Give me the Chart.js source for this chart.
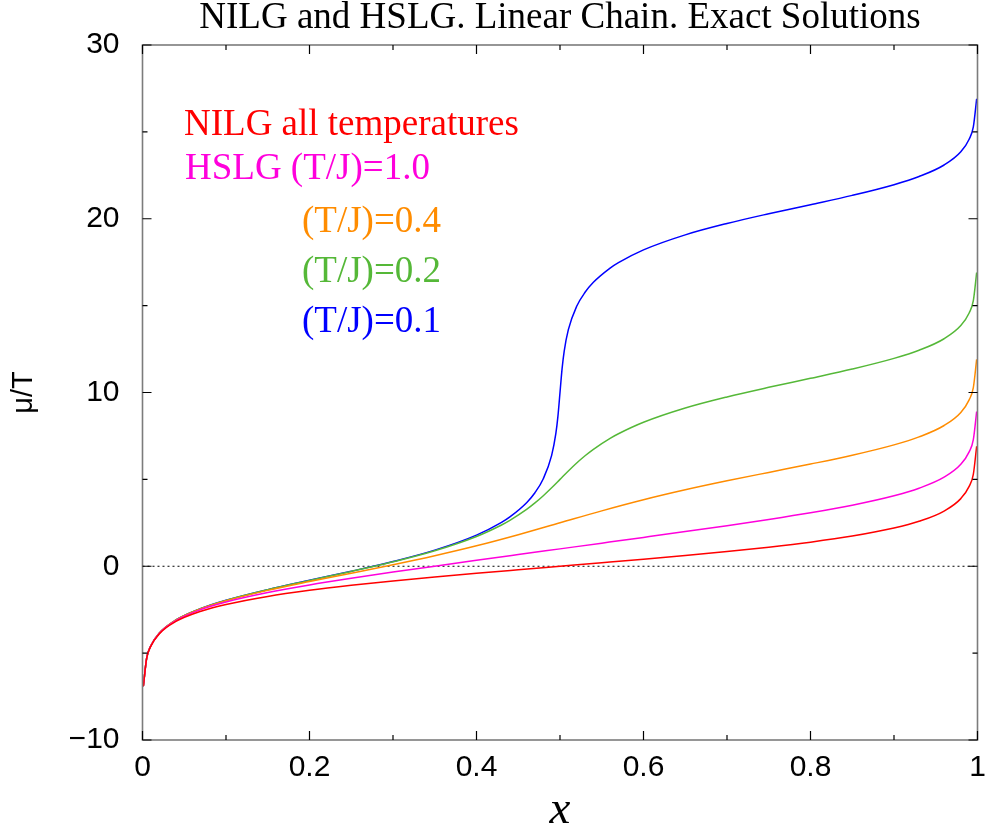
<!DOCTYPE html>
<html>
<head>
<meta charset="utf-8">
<script src="https://cdn.jsdelivr.net/npm/chart.js@4.4.0/dist/chart.umd.min.js"></script>
<style>
  html, body { margin: 0; padding: 0; background: #ffffff; }
  #wrap { width: 985px; height: 825px; }
</style>
</head>
<body>
<div id="wrap"><canvas id="c" width="985" height="825"></canvas></div>
<script>
// ---------------- data ----------------
const titleText = 'NILG and HSLG. Linear Chain. Exact Solutions';
const xAxisTitle = 'x';
const yAxisTitle = 'μ/T';

const xTicks = [0, 0.2, 0.4, 0.6, 0.8, 1];
const xTickLabels = ['0', '0.2', '0.4', '0.6', '0.8', '1'];
const xMinorTicks = [0.1, 0.3, 0.5, 0.7, 0.9];
const yTicks = [-10, 0, 10, 20, 30];
const yTickLabels = ['−10', '0', '10', '20', '30'];
const yMinorTicks = [-5, 5, 15, 25];

const seriesNames = ['NILG all temperatures', 'HSLG (T/J)=1.0', '(T/J)=0.4', '(T/J)=0.2', '(T/J)=0.1'];

// x positions for the NILG, T/J=1.0 and T/J=0.4 curves
const xCoarse = [0.001, 0.005, 0.01, 0.02, 0.04, 0.07, 0.1, 0.15, 0.2, 0.25, 0.3, 0.35, 0.4, 0.45, 0.5,
                 0.55, 0.6, 0.65, 0.7, 0.75, 0.8, 0.85, 0.9, 0.93, 0.96, 0.98, 0.99, 0.995, 0.999];
const nilg   = [-6.907, -5.293, -4.595, -3.892, -3.178, -2.587, -2.197, -1.735, -1.386, -1.099, -0.847, -0.619, -0.405, -0.201, 0,
                0.201, 0.405, 0.619, 0.847, 1.099, 1.386, 1.735, 2.197, 2.587, 3.178, 3.892, 4.595, 5.293, 6.907];
const hslg10 = [-6.906, -5.287, -4.582, -3.866, -3.126, -2.492, -2.058, -1.515, -1.078, -0.694, -0.337, 0.005, 0.339, 0.670, 1.0,
                1.330, 1.661, 1.995, 2.337, 2.694, 3.078, 3.515, 4.058, 4.492, 5.126, 5.866, 6.582, 7.287, 8.906];
const hslg04 = [-6.905, -5.284, -4.577, -3.854, -3.101, -2.445, -1.984, -1.388, -0.880, -0.401, 0.085, 0.603, 1.174, 1.812, 2.5,
                3.188, 3.826, 4.398, 4.915, 5.401, 5.880, 6.388, 6.984, 7.445, 8.101, 8.854, 9.577, 10.284, 11.905];

// x positions for the T/J=0.2 curve
const xGreen = [0.001, 0.005, 0.01, 0.02, 0.04, 0.07, 0.1, 0.15, 0.2, 0.25, 0.3, 0.35, 0.4,
                0.43, 0.44, 0.46, 0.47, 0.48, 0.49, 0.5, 0.51, 0.52, 0.53, 0.54, 0.56, 0.57,
                0.6, 0.65, 0.7, 0.75, 0.8, 0.85, 0.9, 0.93, 0.96, 0.98, 0.99, 0.995, 0.999];
const hslg02 = [-6.905, -5.283, -4.575, -3.851, -3.094, -2.431, -1.964, -1.350, -0.817, -0.298, 0.255, 0.894, 1.715,
                2.376, 2.641, 3.269, 3.643, 4.060, 4.518, 5.0, 5.482, 5.940, 6.358, 6.731, 7.359, 7.624,
                8.285, 9.106, 9.745, 10.298, 10.817, 11.350, 11.964, 12.431, 13.094, 13.851, 14.575, 15.283, 16.905];

// x positions for the T/J=0.1 curve
const xBlue = [0.001, 0.005, 0.01, 0.02, 0.04, 0.07, 0.1, 0.15, 0.2, 0.25, 0.3, 0.35, 0.4,
               0.43, 0.44, 0.46, 0.47, 0.48, 0.49, 0.495, 0.4975, 0.5, 0.5025, 0.505, 0.51, 0.52, 0.53, 0.54, 0.56, 0.57,
               0.6, 0.65, 0.7, 0.75, 0.8, 0.85, 0.9, 0.93, 0.96, 0.98, 0.99, 0.995, 0.999];
const hslg01 = [-6.905, -5.283, -4.575, -3.851, -3.093, -2.430, -1.962, -1.346, -0.811, -0.288, 0.272, 0.927, 1.792,
                2.526, 2.840, 3.656, 4.231, 5.036, 6.383, 7.628, 8.627, 10.0, 11.373, 12.372, 13.617, 14.964, 15.769, 16.344, 17.160, 17.474,
                18.208, 19.073, 19.728, 20.288, 20.811, 21.346, 21.962, 22.430, 23.093, 23.851, 24.575, 25.283, 26.905];

// dotted reference line at mu/T = 0
const zeroLineX = [0, 1];
const zeroLineY = [0, 0];

// ---------------- styling ----------------
const seriesColors = ['#ff0000', '#ff00dc', '#ff8c00', '#55b838', '#0000ff'];
const SERIF = "'Liberation Serif', 'Times New Roman', serif";
const SANS = "'Liberation Sans', Arial, sans-serif";

function pts(xs, ys) { return xs.map((x, i) => ({ x: x, y: ys[i] })); }

const lineStyle = { showLine: true, pointRadius: 0, borderWidth: 1.5, fill: false, cubicInterpolationMode: 'monotone' };

const datasets = [
  Object.assign({ label: seriesNames[0], data: pts(xCoarse, nilg),   borderColor: seriesColors[0] }, lineStyle),
  Object.assign({ label: seriesNames[1], data: pts(xCoarse, hslg10), borderColor: seriesColors[1] }, lineStyle),
  Object.assign({ label: seriesNames[2], data: pts(xCoarse, hslg04), borderColor: seriesColors[2] }, lineStyle),
  Object.assign({ label: seriesNames[3], data: pts(xGreen, hslg02),  borderColor: seriesColors[3] }, lineStyle),
  Object.assign({ label: seriesNames[4], data: pts(xBlue, hslg01),   borderColor: seriesColors[4] }, lineStyle),
  { label: 'zero', data: pts(zeroLineX, zeroLineY), showLine: true, pointRadius: 0, borderWidth: 1,
    borderColor: '#000000', borderDash: [2, 3], fill: false }
];

// legend text positions relative to the plot area (pixels)
const legendPos = [[41.5, 90], [42.5, 134], [159.5, 186.5], [159.5, 236.5], [159.5, 286.5]];

const framePlugin = {
  id: 'frameAndLegend',
  afterDatasetsDraw(chart) {
    const { ctx, chartArea: a, scales: { x, y } } = chart;
    ctx.save();
    // legend labels
    ctx.font = '37px ' + SERIF;
    ctx.textBaseline = 'alphabetic';
    ctx.textAlign = 'left';
    seriesNames.forEach((t, i) => {
      ctx.fillStyle = seriesColors[i];
      ctx.fillText(t, a.left + legendPos[i][0], a.top + legendPos[i][1]);
    });
    // frame
    ctx.strokeStyle = '#7c7c7c';
    ctx.lineWidth = 1.6;
    ctx.strokeRect(a.left, a.top, a.right - a.left, a.bottom - a.top);
    // inward ticks on all four sides
    ctx.strokeStyle = '#000000';
    ctx.lineWidth = 1.2;
    ctx.beginPath();
    const xt = (vals, len) => vals.forEach(v => {
      const px = x.getPixelForValue(v);
      ctx.moveTo(px, a.bottom); ctx.lineTo(px, a.bottom - len);
      ctx.moveTo(px, a.top); ctx.lineTo(px, a.top + len);
    });
    const yt = (vals, len) => vals.forEach(v => {
      const py = y.getPixelForValue(v);
      ctx.moveTo(a.left, py); ctx.lineTo(a.left + len, py);
      ctx.moveTo(a.right, py); ctx.lineTo(a.right - len, py);
    });
    xt(xTicks, 9); xt(xMinorTicks, 5);
    yt(yTicks, 9); yt(yMinorTicks, 5);
    ctx.stroke();
    ctx.restore();
  }
};

new Chart(document.getElementById('c'), {
  type: 'scatter',
  data: { datasets: datasets },
  options: {
    responsive: false,
    animation: false,
    devicePixelRatio: 1,
    layout: { autoPadding: false, padding: { left: 0, right: 7.5, top: 0, bottom: 0 } },
    plugins: {
      legend: { display: false },
      tooltip: { enabled: false },
      title: {
        display: true, text: titleText, fullSize: false, color: '#000000',
        font: { family: SERIF, size: 37, weight: 'normal', lineHeight: 1.0 },
        padding: { top: 0, bottom: 8 }
      }
    },
    scales: {
      x: {
        type: 'linear', position: 'bottom', min: 0, max: 1,
        grid: { display: false, drawTicks: false },
        border: { display: false },
        afterBuildTicks: s => { s.ticks = xTicks.map(v => ({ value: v })); },
        afterFit: s => { s.height = 85; s.paddingLeft = 0; s.paddingRight = 0; },
        ticks: {
          color: '#000000', font: { family: SANS, size: 30 }, padding: 9.5,
          maxRotation: 0, autoSkip: false,
          callback: v => xTickLabels[xTicks.indexOf(v)]
        },
        title: {
          display: true, text: xAxisTitle, color: '#000000',
          font: { family: SERIF, size: 47, style: 'italic', lineHeight: 0.5 },
          padding: { top: 0, bottom: 3 }
        }
      },
      y: {
        type: 'linear', position: 'left', min: -10, max: 30,
        grid: { display: false, drawTicks: false },
        border: { display: false },
        afterBuildTicks: s => { s.ticks = yTicks.map(v => ({ value: v })); },
        afterFit: s => { s.width = 142.5; },
        ticks: {
          color: '#000000', font: { family: SANS, size: 30 }, padding: 23,
          callback: v => yTickLabels[yTicks.indexOf(v)]
        },
        title: {
          display: true, text: yAxisTitle, color: '#000000',
          font: { family: SANS, size: 29 },
          padding: { top: 7, bottom: 0 }
        }
      }
    }
  },
  plugins: [framePlugin]
});
</script>
</body>
</html>
